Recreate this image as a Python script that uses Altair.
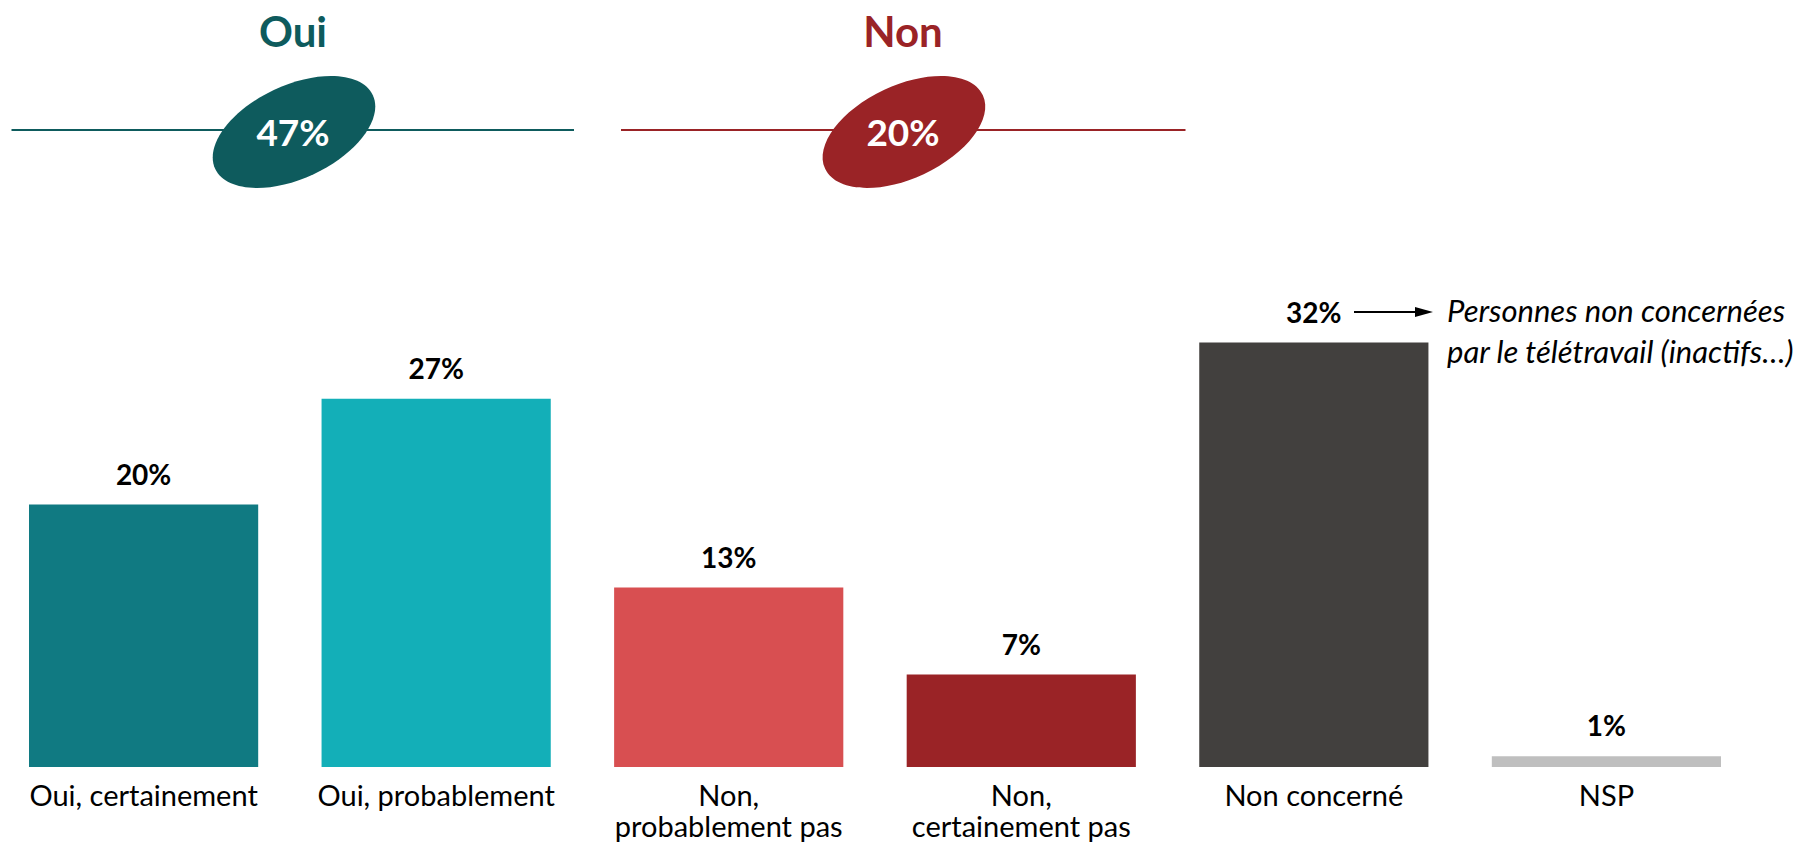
import altair as alt
import pandas as pd

# ---------------- data ----------------
categories = ["Oui, certainement", "Oui, probablement", "Non,\nprobablement pas",
              "Non,\ncertainement pas", "Non concerné", "NSP"]
values = [19.6, 27.5, 13.4, 6.9, 31.7, 0.8]          # bar heights
value_labels = ["20%", "27%", "13%", "7%", "32%", "1%"]  # labels printed on the chart
bar_colors = ["#107A82", "#13AFB8", "#D84F51", "#9A2326", "#42403E", "#BFBFBF"]

group_names = ["Oui", "Non"]
group_totals = [47, 20]
group_colors = ["#0E5B5D", "#9A2326"]

note_lines = ["Personnes non concernées", "par le télétravail (inactifs…)"]

# ---------------- layout (view pixel coordinates) ----------------
W, H = 1789, 759
FONT = "Lato"

df = pd.DataFrame({"cat": categories, "val": values, "label": value_labels})

x_enc = alt.X(
    "cat:N", sort=categories,
    scale=alt.Scale(range=[21, 1713], paddingInner=0.2166, paddingOuter=0),
    axis=alt.Axis(title=None, domain=False, ticks=False, tickSize=0, labelAngle=0,
                  labelFont=FONT, labelFontSize=29, labelColor="#000000",
                  labelPadding=38, labelBaseline="alphabetic", labelLineHeight=31,
                  labelLimit=600, labelExpr="split(datum.label, '\\n')"),
)
y_enc = alt.Y("val:Q", scale=alt.Scale(domain=[0, 56.68], nice=False), axis=None)

base = alt.Chart(df)
bars = base.mark_bar().encode(
    x=x_enc, y=y_enc,
    color=alt.Color("cat:N", scale=alt.Scale(domain=categories, range=bar_colors), legend=None),
)
labels = base.mark_text(dy=-20, baseline="alphabetic", font=FONT, fontWeight="bold",
                        fontSize=28, color="#000000").encode(x=x_enc, y=y_enc, text="label:N")

layers = [bars, labels]

# ---------------- header groups (Oui / Non) ----------------
c = 0.5523
k = 0.535
ellipse_path = (
    f"M -1 0 C -1 {-k*c:.4f} {-c:.4f} {-k} 0 {-k} "
    f"C {c:.4f} {-k} 1 {-k*c:.4f} 1 0 "
    f"C 1 {k*c:.4f} {c:.4f} {k} 0 {k} "
    f"C {-c:.4f} {k} -1 {k*c:.4f} -1 0 Z"
)
group_layout = [
    {"cx": 285, "x1": 3.5, "x2": 566},
    {"cx": 895, "x1": 613, "x2": 1177.5},
]
line_y = 122
for name, total, col, lay in zip(group_names, group_totals, group_colors, group_layout):
    gdf = pd.DataFrame({"name": [name], "pct": [f"{total}%"]})
    g = alt.Chart(gdf)
    layers.append(g.mark_rule(color=col, strokeWidth=2.2).encode(
        x=alt.value(lay["x1"]), x2=alt.value(lay["x2"]), y=alt.value(line_y)))
    layers.append(g.mark_point(shape=ellipse_path, filled=True, opacity=1, color=col,
                               size=174 * 174, angle=335, strokeWidth=0).encode(
        x=alt.value(lay["cx"] + 1), y=alt.value(line_y + 2)))
    layers.append(g.mark_text(font=FONT, fontWeight="bold", fontSize=37, color="#FFFFFF",
                              baseline="alphabetic", align="center").encode(
        x=alt.value(lay["cx"]), y=alt.value(138), text="pct:N"))
    layers.append(g.mark_text(font=FONT, fontWeight="bold", fontSize=42, color=col,
                              baseline="alphabetic", align="center").encode(
        x=alt.value(lay["cx"]), y=alt.value(39), text="name:N"))

# ---------------- annotation for "Non concerné" ----------------
ndf = pd.DataFrame({"t": [note_lines]})
n = alt.Chart(ndf)
layers.append(n.mark_rule(color="#000000", strokeWidth=2).encode(
    x=alt.value(1346), x2=alt.value(1416), y=alt.value(304)))
layers.append(n.mark_point(shape="M -1 -0.55 L 1 0 L -1 0.55 Z", filled=True, opacity=1,
                           color="#000000", size=324, strokeWidth=0).encode(
    x=alt.value(1416), y=alt.value(304)))
layers.append(n.mark_text(font=FONT, fontStyle="italic", fontSize=31, color="#000000",
                          align="left", baseline="alphabetic", lineHeight=41).encode(
    x=alt.value(1439), y=alt.value(314), text="t"))

chart = alt.layer(*layers).properties(
    width=W, height=H,
    autosize=alt.AutoSizeParams(type="none"),
    padding={"left": 0, "top": 0, "right": 0, "bottom": 76},
    background="#FFFFFF",
).configure_view(stroke=None)

chart.save("out.html", embed_options={"renderer": "svg", "actions": False})
